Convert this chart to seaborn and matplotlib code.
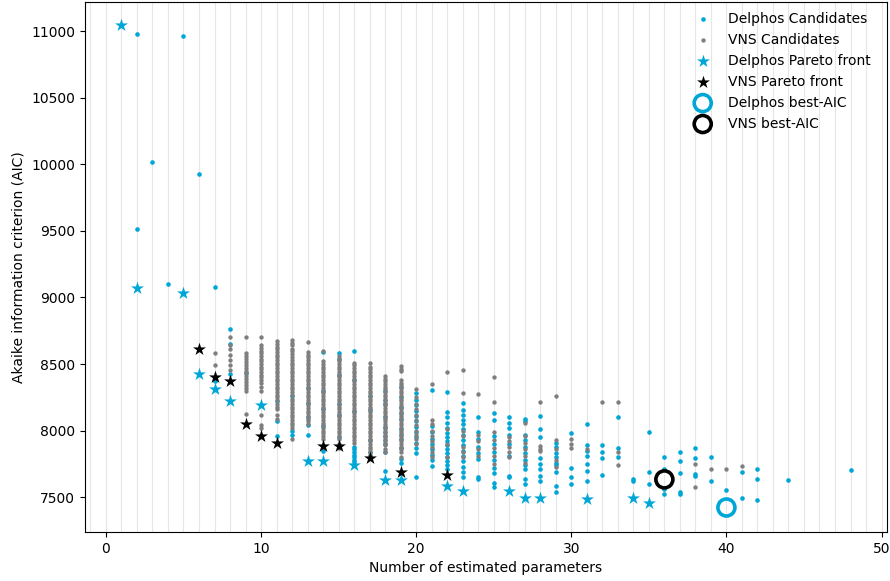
import numpy as np
import pandas as pd
import matplotlib
matplotlib.use("Agg")
import matplotlib.pyplot as plt
from matplotlib.ticker import MultipleLocator
import seaborn as sns

# ---------------- data ----------------
delphos_cand = {
    2: [10980, 9514], 3: [10020], 4: [9100], 5: [10965], 6: [9930],
    7: [9075, 8375], 8: [8761, 8652, 8427], 9: [8432],
    11: [8220, 8071, 7958], 12: [8257, 7995, 7970],
    13: [8320, 8210, 8100, 8040, 7965],
    14: [8590, 8300, 8160, 8035, 7850],
    15: [8585, 8540, 8420, 8200, 8120, 7950],
    16: [8595, 8380, 8150, 7880, 7860, 7840, 7820, 7800, 7780, 7765],
    17: [8257, 8158, 7930, 7840, 7810],
    18: [8300, 8230, 8200, 8100, 8030, 7990, 7960, 7930, 7900, 7840, 7700],
    19: [8330, 8250, 8180, 8130, 8090, 8010, 7970, 7935, 7870, 7790, 7760],
    20: [8285, 8230, 8190, 8150, 8110, 8070, 8030, 7990, 7950, 7910, 7870, 7830, 7655],
    21: [8308, 8034, 7990, 7940, 7900, 7860, 7820, 7780, 7734],
    22: [8290, 8138, 8100, 8060, 8020, 7980, 7950, 7920, 7890, 7860, 7830, 7800, 7770, 7740, 7710],
    23: [8208, 8158, 8120, 8080, 8050, 8010, 7970, 7930, 7890, 7850, 7810, 7770, 7730, 7690, 7650],
    24: [8103, 7990, 7940, 7880, 7830, 7790, 7650, 7635],
    25: [8130, 8083, 7960, 7900, 7840, 7780, 7720, 7680, 7610, 7580],
    26: [8103, 8060, 8020, 7971, 7900, 7810, 7659, 7649],
    27: [8088, 8071, 7971, 7930, 7880, 7830, 7780, 7740, 7709, 7634, 7597],
    28: [8113, 8014, 7952, 7796, 7750, 7712, 7660, 7622],
    29: [7910, 7880, 7830, 7800, 7760, 7740, 7690, 7582, 7540],
    30: [7986, 7722, 7650, 7597],
    31: [8053, 7889, 7850, 7809, 7747, 7700, 7619],
    32: [7896, 7840, 7791, 7666],
    33: [8103, 7870, 7800],
    34: [7634, 7622],
    35: [7989, 7692, 7597],
    36: [7799, 7709, 7559, 7527],
    37: [7839, 7769, 7684, 7540, 7525],
    38: [7866, 7796, 7677, 7659],
    39: [7799, 7624],
    40: [7557],
    41: [7687, 7492],
    42: [7709, 7640, 7483],
    44: [7627],
    48: [7702],
}

vns_cand = {
    7: [8580, 8490],
    8: [8705, 8640, 8614, 8570, 8530, 8495, 8457],
    9: [8702, 8582, 8560, 8540, 8515, 8495, 8470, 8450, 8430, 8410, 8385, 8365,
        8340, 8320, 8298, 8128],
    10: [8700, 8640, 8620, 8600, 8580, 8560, 8540, 8520, 8500, 8480, 8460, 8440,
         8420, 8400, 8380, 8360, 8330, 8300, 8120, 8045, 8020],
    11: [8670, 8650, 8630, 8610, 8590, 8570, 8550, 8530, 8510, 8490, 8470, 8450,
         8430, 8410, 8390, 8370, 8350, 8330, 8310, 8290, 8270, 8250, 8230, 8200,
         8180, 8160, 8120, 8090],
    12: [8680, 8660, 8640, 8615, 8595, 8575, 8550, 8530, 8510, 8490, 8470, 8450,
         8430, 8410, 8390, 8370, 8350, 8330, 8310, 8290, 8270, 8240, 8220, 8200,
         8180, 8160, 8140, 8120, 8100, 8080, 8060, 8040, 8020, 7940],
    13: [8665, 8590, 8570, 8550, 8530, 8510, 8490, 8470, 8450, 8430, 8410, 8390,
         8370, 8350, 8330, 8310, 8290, 8270, 8250, 8230, 8210, 8190, 8170, 8150,
         8130, 8110, 8090, 8070, 8050],
    14: [8600, 8520, 8500, 8480, 8460, 8440, 8420, 8400, 8380, 8360, 8340, 8320,
         8300, 8280, 8260, 8240, 8220, 8200, 8180, 8160, 8140, 8120, 8100, 8080,
         8060, 8040, 8020, 8000, 7980, 7960, 7935],
    15: [8560, 8540, 8520, 8500, 8480, 8460, 8440, 8420, 8400, 8380, 8360, 8340,
         8320, 8300, 8280, 8260, 8240, 8220, 8200, 8180, 8160, 8140, 8120, 8100,
         8080, 8060, 8040, 8020, 8000, 7980, 7960, 7935, 7900, 7870],
    16: [8510, 8490, 8470, 8450, 8430, 8410, 8390, 8370, 8350, 8330, 8310, 8290,
         8270, 8250, 8230, 8210, 8190, 8170, 8150, 8130, 8110, 8090, 8070, 8050,
         8030, 8010, 7990, 7970, 7950, 7930, 7910],
    17: [8505, 8480, 8460, 8440, 8420, 8400, 8380, 8360, 8340, 8320, 8300, 8280,
         8260, 8240, 8220, 8200, 8180, 8160, 8140, 8120, 8100, 8080, 8060, 8040,
         8020, 8000, 7980, 7960, 7940, 7920, 7900, 7880, 7860, 7840, 7820],
    18: [8410, 8390, 8370, 8350, 8330, 8310, 8290, 8270, 8250, 8230, 8210, 8190,
         8170, 8150, 8130, 8110, 8090, 8070, 8050, 8030, 8010, 7990, 7970, 7950,
         7930, 7910, 7890, 7860, 7840],
    19: [8487, 8465, 8450, 8380, 8360, 8340, 8320, 8300, 8280, 8260, 8240, 8220,
         8200, 8180, 8160, 8140, 8120, 8100, 8080, 8060, 8040, 8020, 8000, 7980,
         7960, 7940, 7920, 7900, 7880, 7860, 7840, 7800],
    20: [8313, 8250, 8200, 8160, 8120, 8080, 8040, 8000, 7970, 7940, 7900],
    21: [8353, 8083, 8050, 8000, 7960, 7920, 7880, 7840, 7800],
    22: [8442, 8010, 7900, 7800],
    23: [8455, 8283, 8000, 7960, 7880, 7840, 7800],
    24: [8277, 7970, 7920, 7860, 7810],
    25: [8400, 8215, 7990, 7930, 7870, 7810, 7750],
    26: [7949, 7920, 7880, 7840, 7800],
    27: [8060, 7960, 7910, 7860, 7810, 7760],
    28: [8215, 7884, 7860, 7846],
    29: [8263, 7929, 7860, 7780, 7730],
    30: [7934, 7900, 7870],
    31: [7860],
    32: [8215],
    33: [8215, 7840, 7740],
    38: [7747, 7580],
    39: [7709],
    40: [7709],
    41: [7732],
}

delphos_pareto_x = [1, 2, 5, 6, 7, 8, 10, 13, 14, 16, 18, 19, 22, 23, 26, 27, 28, 31, 34, 35]
delphos_pareto_aic = [11045, 9070, 9033, 8427, 8315, 8225, 8195, 7769, 7769, 7740,
                      7627, 7627, 7582, 7545, 7545, 7492, 7492, 7488, 7495, 7455]

vns_pareto_x = [6, 7, 8, 9, 10, 11, 14, 15, 17, 19, 22]
vns_pareto_aic = [8614, 8405, 8375, 8053, 7963, 7904, 7881, 7881, 7791, 7687, 7664]

delphos_best_x, delphos_best_aic = [40], [7423]
vns_best_x, vns_best_aic = [36], [7634]

CYAN = "#00a6d6"
GRAY = "#7f7f7f"


def to_frame(d):
    xs, ys = [], []
    for k, vals in d.items():
        xs += [k] * len(vals)
        ys += vals
    return pd.DataFrame({"x": xs, "aic": ys})


df_dc = to_frame(delphos_cand)
df_vc = to_frame(vns_cand)
df_dp = pd.DataFrame({"x": delphos_pareto_x, "aic": delphos_pareto_aic})
df_vp = pd.DataFrame({"x": vns_pareto_x, "aic": vns_pareto_aic})
df_db = pd.DataFrame({"x": delphos_best_x, "aic": delphos_best_aic})
df_vb = pd.DataFrame({"x": vns_best_x, "aic": vns_best_aic})

fig = plt.figure(figsize=(8.9, 5.81), dpi=100)
ax = fig.add_axes([0.0955, 0.0843, 0.9011, 0.9130])

sns.scatterplot(data=df_dc, x="x", y="aic", ax=ax, color=CYAN, s=11,
                linewidth=0, label="Delphos Candidates", zorder=2)
sns.scatterplot(data=df_vc, x="x", y="aic", ax=ax, color=GRAY, s=10,
                linewidth=0, label="VNS Candidates", zorder=2)
sns.scatterplot(data=df_dp, x="x", y="aic", ax=ax, color=CYAN, s=95, marker="*",
                linewidth=0, label="Delphos Pareto front", zorder=3)
sns.scatterplot(data=df_vp, x="x", y="aic", ax=ax, color="black", s=95, marker="*",
                linewidth=0, label="VNS Pareto front", zorder=3)
ax.scatter(df_db["x"], df_db["aic"], s=150, facecolors="none", edgecolors=CYAN,
           linewidths=2.6, label="Delphos best-AIC", zorder=4)
ax.scatter(df_vb["x"], df_vb["aic"], s=150, facecolors="none", edgecolors="black",
           linewidths=2.6, label="VNS best-AIC", zorder=4)

ax.set_xlim(-1.35, 50.35)
ax.set_ylim(7239, 11221)
ax.set_xticks([0, 10, 20, 30, 40, 50])
ax.set_yticks(np.arange(7500, 11001, 500))
ax.xaxis.set_minor_locator(MultipleLocator(1))
ax.tick_params(axis="x", which="minor", length=0)
ax.grid(True, axis="x", which="both", color="#e6e6e6", linewidth=0.8)
ax.set_axisbelow(True)

ax.set_xlabel("Number of estimated parameters")
ax.set_ylabel("Akaike information criterion (AIC)")

ax.legend(loc="upper right", frameon=False, fontsize=10,
          bbox_to_anchor=(0.995, 1.004))

fig.savefig("out.png", dpi=100)
